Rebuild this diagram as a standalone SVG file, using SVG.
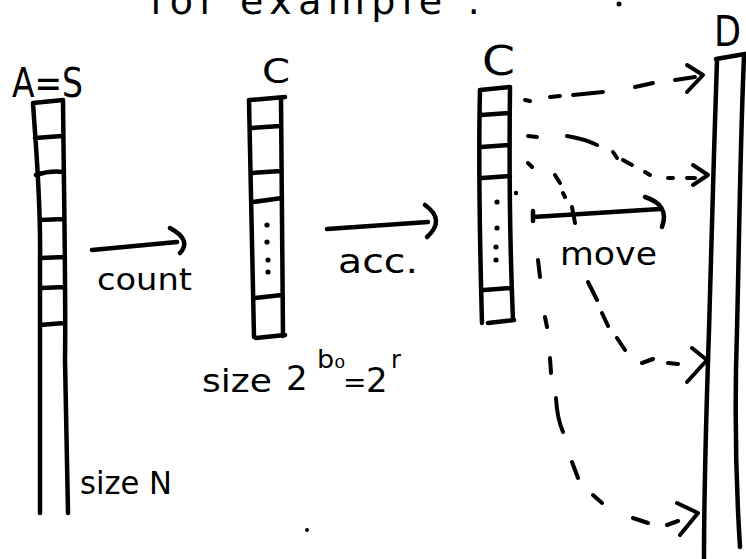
<svg xmlns="http://www.w3.org/2000/svg" width="746" height="559" viewBox="0 0 746 559">
<style>
.ink{fill:none;stroke:#000;stroke-width:4.5;stroke-linecap:round;stroke-linejoin:round}
.thin{fill:none;stroke:#000;stroke-width:4;stroke-linecap:round;stroke-linejoin:round}
.lbl{font-family:"DejaVu Sans","Liberation Sans",sans-serif;fill:#000}
</style>
<rect width="746" height="559" fill="#fff"/>
<text class="lbl" x="150" y="14" font-size="38" textLength="330">for example :</text>
<circle cx="619" cy="4" r="2.5" fill="#000"/>

<g id="arrayA">
<text class="lbl" x="12" y="97" font-size="40" textLength="71" lengthAdjust="spacingAndGlyphs">A=S</text>
<path class="ink" d="M33,103 L63,100 M33,103 C36,150 41,200 40,260 L40,513 M63,100 C64,200 66,300 65,360 L68,513 M35,138 L62,136 M36,175 C45,172 55,171 63,172 M40,220 L64,219 M41,258 L64,257 M41,288 L65,287 M40,325 L64,323"/>
<text class="lbl" x="80" y="494" font-size="32" textLength="92" lengthAdjust="spacingAndGlyphs">size N</text>
</g>

<g id="arrayC1">
<text class="lbl" x="262" y="83" font-size="34" textLength="28" lengthAdjust="spacingAndGlyphs">C</text>
<path class="ink" d="M250,100 L285,97 M249,100 C250,180 253,260 254,337 M281,98 C282,180 283,260 283,336 M256,338 L285,335 M252,128 L280,126 M252,173 L281,171 M253,202 L282,198 M255,298 L282,295"/>
<g fill="#000"><circle cx="267" cy="225" r="2.6"/><circle cx="267" cy="242" r="2.6"/><circle cx="268" cy="260" r="2.6"/><circle cx="268" cy="272" r="2.6"/></g>
<text class="lbl" x="202" y="392" font-size="32" textLength="70" lengthAdjust="spacingAndGlyphs">size</text>
<text class="lbl" x="286" y="390" font-size="34">2</text>
<text class="lbl" x="317" y="368" font-size="24" textLength="28" lengthAdjust="spacingAndGlyphs">b₀</text>
<text class="lbl" x="343" y="392" font-size="28">=</text>
<text class="lbl" x="366" y="392" font-size="34">2</text>
<text class="lbl" x="391" y="368" font-size="24">r</text>
</g>

<g id="arrayC2">
<text class="lbl" x="482" y="75" font-size="40" textLength="33" lengthAdjust="spacingAndGlyphs">C</text>
<path class="ink" d="M480,90 L510,87 M480,90 C478,170 480,250 482,323 M510,88 C509,170 510,250 513,320 M488,323 L514,320 M481,115 L509,113 M481,147 L509,145 M482,178 L510,176 M484,290 L510,288"/>
<g fill="#000"><circle cx="497" cy="202" r="2.6"/><circle cx="497" cy="228" r="2.6"/><circle cx="496" cy="247" r="2.6"/><circle cx="496" cy="260" r="2.6"/><circle cx="516" cy="193" r="2.2"/></g>
</g>

<g id="arrayD">
<text class="lbl" x="714" y="46" font-size="42" textLength="27" lengthAdjust="spacingAndGlyphs">D</text>
<path class="ink" d="M716,59 L745,54 M717,60 C714,150 711,250 709,330 C706,420 704,500 704,559 M744,56 C740,150 739,250 737,330 C734,420 737,500 740,547"/>
</g>

<g id="connectors">
<path class="ink" d="M92,250 L177,242 M170,228 Q192,240 180,253"/>
<text class="lbl" x="97" y="290" font-size="30" textLength="95" lengthAdjust="spacingAndGlyphs">count</text>
<path class="ink" d="M327,229 L428,222 M425,205 Q446,220 427,237"/>
<text class="lbl" x="338" y="273" font-size="34" textLength="80" lengthAdjust="spacingAndGlyphs">acc.</text>
<path class="ink" d="M533,211 L533,221 M533,217 L660,209 M645,197 Q670,205 662,227"/>
<text class="lbl" x="560" y="265" font-size="32" textLength="97" lengthAdjust="spacingAndGlyphs">move</text>
<path class="thin" d="M525,100 L530,101 M550,97 L560,96 M573,95 L603,92 M635,87 L653,83 M675,80 L695,77 M687,65 L703,75 L687,92"/>
<path class="thin" d="M528,136 L537,137 M567,136 Q585,139 597,145 M613,152 L617,158 M623,160 L632,165 M645,172 L650,175 M668,178 L673,178 M687,178 L695,178 M693,165 L708,175 L693,185"/>
<path class="thin" d="M528,163 L532,167 M555,175 L560,183 M563,193 L565,197 M572,207 L575,223 M588,282 L597,300 M602,313 L608,326 M617,338 L625,350 M642,363 L653,359 M668,363 L678,364 M692,348 L707,360 L687,382"/>
<path class="thin" d="M538,260 L540,277 M545,317 L547,327 M550,358 L551,373 M556,398 Q557,418 563,432 M572,462 L578,478 M593,495 L602,503 M633,518 L648,523 M667,525 L678,521 M677,503 L698,513 L680,535"/>
<circle cx="307" cy="530" r="2" fill="#000"/>
</g>
</svg>
